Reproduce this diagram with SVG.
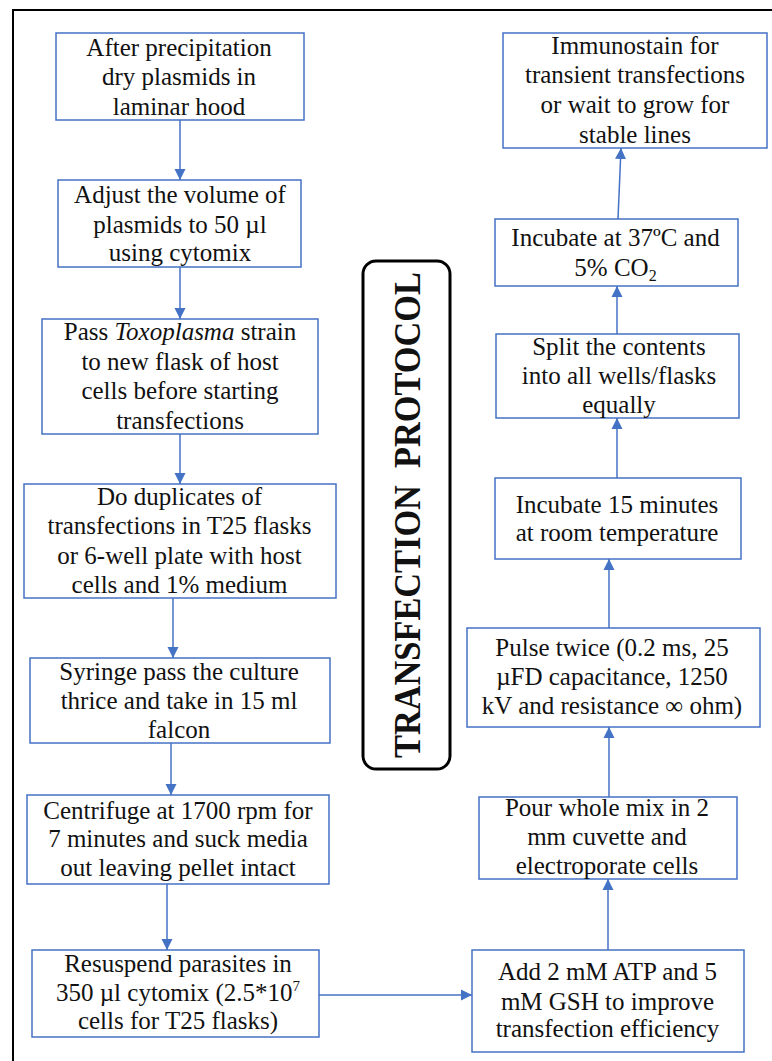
<svg xmlns="http://www.w3.org/2000/svg" width="772" height="1061" viewBox="0 0 772 1061">
<style>
.bg{fill:#ffffff}
.frame{fill:none;stroke:#000;stroke-width:2}
.box{fill:#fff;stroke:#4472C4;stroke-width:1.5}
.title{fill:#fff;stroke:#000;stroke-width:3}
text{font-family:"Liberation Serif","Times New Roman",serif;font-size:25px;fill:#111;text-anchor:middle}
.tt{font-size:38px;font-weight:bold;white-space:pre}
.conn line{stroke:#4472C4;stroke-width:1.5;marker-end:url(#ah)}
</style>
<defs>
<marker id="ah" markerUnits="userSpaceOnUse" markerWidth="12" markerHeight="12" viewBox="0 0 12 12" refX="11" refY="6" orient="auto">
<path d="M0,0.5 L11,6 L0,11.5 Z" fill="#4472C4"/>
</marker>
</defs>
<rect class="bg" x="0" y="0" width="772" height="1061"/>
<rect class="frame" x="13" y="10" width="800" height="1100"/>

<g class="conn">
<line x1="180" y1="120" x2="180" y2="180"/>
<line x1="180" y1="267" x2="180" y2="319"/>
<line x1="180" y1="434" x2="180" y2="484"/>
<line x1="173" y1="598" x2="173" y2="658"/>
<line x1="171" y1="743" x2="171" y2="795"/>
<line x1="167" y1="884" x2="167" y2="950"/>
<line x1="319" y1="995" x2="472" y2="995"/>
<line x1="608" y1="950" x2="608" y2="879"/>
<line x1="609" y1="797" x2="609" y2="727"/>
<line x1="609" y1="628" x2="609" y2="559"/>
<line x1="617" y1="478" x2="617" y2="418"/>
<line x1="617" y1="334" x2="617" y2="286"/>
<line x1="618" y1="219" x2="621" y2="148"/>
</g>

<g id="n1"><rect class="box" x="56" y="33" width="248" height="87"/>
<text x="179" y="55.5">After precipitation</text><text x="179" y="85">dry plasmids in</text><text x="179" y="114.5">laminar hood</text></g>

<g id="n2"><rect class="box" x="58" y="180" width="243" height="87"/>
<text x="180" y="203">Adjust the volume of</text><text x="180" y="232.5">plasmids to 50 µl</text><text x="180" y="261">using cytomix</text></g>

<g id="n3"><rect class="box" x="42" y="319" width="276" height="115"/>
<text x="180" y="340">Pass <tspan font-style="italic">Toxoplasma</tspan> strain</text><text x="180" y="369.5">to new flask of host</text><text x="180" y="399">cells before starting</text><text x="180" y="428.5">transfections</text></g>

<g id="n4"><rect class="box" x="24" y="484" width="312" height="114"/>
<text x="179.5" y="504.5">Do duplicates of</text><text x="179.5" y="534">transfections in T25 flasks</text><text x="179.5" y="563.5">or 6-well plate with host</text><text x="179.5" y="593">cells and 1% medium</text></g>

<g id="n5"><rect class="box" x="30" y="658" width="300" height="85"/>
<text x="179" y="679.5">Syringe pass the culture</text><text x="179" y="708.5">thrice and take in 15 ml</text><text x="179" y="737.5">falcon</text></g>

<g id="n6"><rect class="box" x="27" y="795" width="302" height="89"/>
<text x="178" y="818.5">Centrifuge at 1700 rpm for</text><text x="178" y="847">7 minutes and suck media</text><text x="178" y="876">out leaving pellet intact</text></g>

<g id="n7"><rect class="box" x="32" y="950" width="287" height="87"/>
<text x="178" y="971.5">Resuspend parasites in</text><text x="178" y="1000.5">350 µl cytomix (2.5*10<tspan dy="-10" font-size="15">7</tspan></text><text x="178" y="1028.5">cells for T25 flasks)</text></g>

<g id="n8"><rect class="box" x="472" y="950" width="272" height="102"/>
<text x="607.5" y="980">Add 2 mM ATP and 5</text><text x="607.5" y="1009.5">mM GSH to improve</text><text x="607.5" y="1037">transfection efficiency</text></g>

<g id="n9"><rect class="box" x="479" y="797" width="258" height="82"/>
<text x="607" y="815.5">Pour whole mix in 2</text><text x="607" y="845">mm cuvette and</text><text x="607" y="874">electroporate cells</text></g>

<g id="n10"><rect class="box" x="467" y="628" width="293" height="99"/>
<text x="612" y="655.5">Pulse twice (0.2 ms, 25</text><text x="612" y="685">µFD capacitance, 1250</text><text x="612" y="713.5">kV and resistance ∞ ohm)</text></g>

<g id="n11"><rect class="box" x="495" y="478" width="246" height="81"/>
<text x="617" y="512.5">Incubate 15 minutes</text><text x="617" y="541">at room temperature</text></g>

<g id="n12"><rect class="box" x="496" y="334" width="243" height="84"/>
<text x="619" y="355">Split the contents</text><text x="619" y="383.5">into all wells/flasks</text><text x="619" y="412.5">equally</text></g>

<g id="n13"><rect class="box" x="495" y="219" width="243" height="67"/>
<text x="615.5" y="246">Incubate at 37ºC and</text><text x="615.5" y="276">5% CO<tspan dy="5" font-size="16">2</tspan></text></g>

<g id="n14"><rect class="box" x="503" y="33" width="264" height="115"/>
<text x="635" y="53.5">Immunostain for</text><text x="635" y="83">transient transfections</text><text x="635" y="113">or wait to grow for</text><text x="635" y="142.5">stable lines</text></g>

<g id="title"><rect class="title" x="363" y="261" width="87" height="508" rx="13" ry="13"/>
<text class="tt" transform="translate(420,515) rotate(-90)" textLength="486" lengthAdjust="spacingAndGlyphs">TRANSFECTION  PROTOCOL</text></g>
</svg>
